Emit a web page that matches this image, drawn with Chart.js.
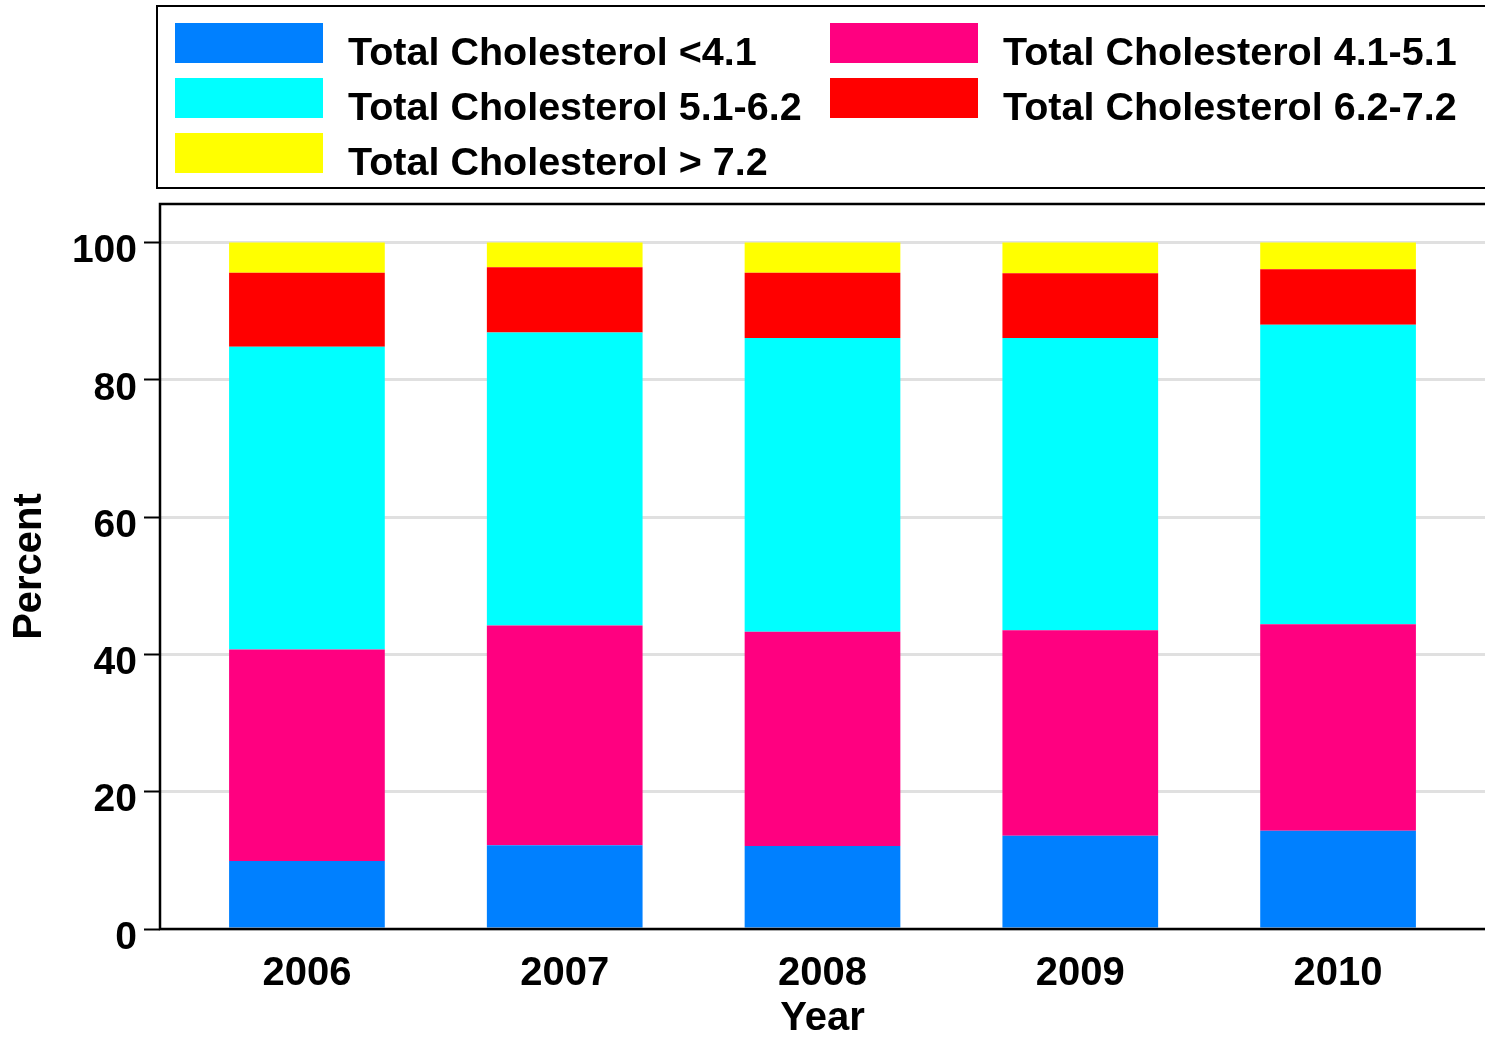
<!DOCTYPE html>
<html>
<head>
<meta charset="utf-8">
<title>Total Cholesterol by Year</title>
<script src="https://cdn.jsdelivr.net/npm/chart.js@4.4.1/dist/chart.umd.min.js"></script>
<style>
  html, body { margin: 0; padding: 0; background: #fff; overflow: hidden; }
  #wrap { width: 1485px; height: 1038px; position: relative; }
</style>
</head>
<body>
<div id="wrap"><canvas id="chart"></canvas></div>
<script>
// values (percent of each year's total)
const years = [2006, 2007, 2008, 2009, 2010];
const seriesLabels = [
  'Total Cholesterol <4.1',
  'Total Cholesterol 4.1-5.1',
  'Total Cholesterol 5.1-6.2',
  'Total Cholesterol 6.2-7.2',
  'Total Cholesterol > 7.2'
];
const below41 = [9.9, 12.2, 12.1, 13.6, 14.3];
const from41to51 = [30.8, 32.0, 31.2, 29.9, 30.1];
const from51to62 = [44.1, 42.7, 42.8, 42.6, 43.6];
const from62to72 = [10.8, 9.5, 9.5, 9.4, 8.1];
const above72 = [4.4, 3.6, 4.4, 4.5, 3.9];
const yTicks = [0, 20, 40, 60, 80, 100];
const seriesColors = ['#0080ff', '#ff0080', '#00ffff', '#ff0000', '#ffff00'];

const FONT = '"Liberation Sans", Arial, Helvetica, sans-serif';
const boldFont = (size, lh) => ({ family: FONT, size, weight: 'bold', lineHeight: lh || 1.2 });

// black frame on the left, top and bottom of the plot (right side runs off the page)
const framePlugin = {
  id: 'frame',
  afterDatasetsDraw(chart) {
    const { ctx, chartArea: a, width } = chart;
    ctx.save();
    ctx.strokeStyle = '#000';
    ctx.lineWidth = 2.5;
    ctx.beginPath();
    ctx.moveTo(width + 10, a.top);
    ctx.lineTo(a.left, a.top);
    ctx.lineTo(a.left, a.bottom);
    ctx.lineTo(width + 10, a.bottom);
    ctx.stroke();
    ctx.restore();
  }
};

// two-column legend in a box above the plot
const legendGrid = {
  id: 'legendGrid',
  afterDraw(chart) {
    const ctx = chart.ctx;
    ctx.save();
    ctx.strokeStyle = '#000';
    ctx.lineWidth = 2;
    ctx.strokeRect(157, 6, chart.width + 20, 182);
    ctx.font = 'bold 39.5px ' + FONT;
    ctx.textAlign = 'left';
    ctx.textBaseline = 'alphabetic';
    chart.data.datasets.forEach((ds, i) => {
      const col = i % 2, row = Math.floor(i / 2);
      const x = 175 + col * 655, y = 23 + row * 55;
      ctx.fillStyle = ds.backgroundColor;
      ctx.fillRect(x, y, 148, 40);
      ctx.fillStyle = '#000';
      ctx.fillText(ds.label, x + 173, y + 42);
    });
    ctx.restore();
  }
};

const seriesValues = [below41, from41to51, from51to62, from62to72, above72];

new Chart(document.getElementById('chart'), {
  type: 'bar',
  data: {
    labels: years,
    datasets: seriesValues.map((vals, i) => ({
      label: seriesLabels[i],
      data: vals,
      backgroundColor: seriesColors[i],
      borderWidth: 0,
      categoryPercentage: 1,
      barPercentage: 0.604
    }))
  },
  options: {
    responsive: true,
    maintainAspectRatio: false,
    animation: false,
    events: [],
    layout: { padding: { top: 204, left: 0, right: 0, bottom: 0 } },
    plugins: { legend: { display: false }, tooltip: { enabled: false } },
    scales: {
      x: {
        type: 'linear',
        stacked: true,
        offset: false,
        min: 2005.43,
        max: 2010.57,
        grid: { display: false, drawTicks: false, offset: false },
        border: { display: false },
        afterBuildTicks: s => { s.ticks = years.map(v => ({ value: v })); },
        afterFit: s => { s.height = 109; s.paddingLeft = 0; s.paddingRight = 0; },
        ticks: { padding: 21, color: '#000', font: boldFont(40), callback: v => String(v) },
        title: { display: true, text: 'Year', color: '#000', font: boldFont(40, 0.95), padding: { top: 0, bottom: 0 } }
      },
      y: {
        stacked: true,
        min: 0,
        max: 105.6,
        afterBuildTicks: s => { s.ticks = yTicks.map(v => ({ value: v })); },
        afterFit: s => { s.width = 160; },
        grid: { color: '#e0e0e0', lineWidth: 3, tickColor: '#000', tickWidth: 2, tickLength: 16 },
        border: { display: false },
        ticks: { padding: 7, labelOffset: 9, color: '#000', font: boldFont(39) },
        title: { display: true, text: 'Percent', color: '#000', font: boldFont(40), padding: { top: 6, bottom: 0 } }
      }
    }
  },
  plugins: [framePlugin, legendGrid]
});
</script>
</body>
</html>
